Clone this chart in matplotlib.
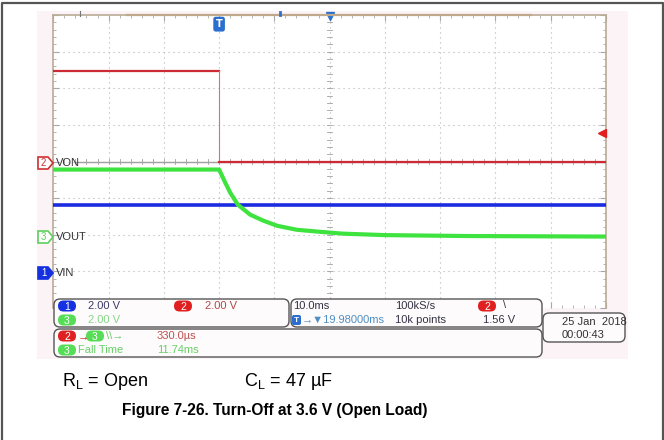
import matplotlib
matplotlib.use('Agg')
import numpy as np
import matplotlib.pyplot as plt
from matplotlib.patches import FancyBboxPatch, Rectangle, Polygon

# scope settings
volts_per_div = 2.0
ms_per_div = 10.0
ch_offset = {'VIN': 1.0, 'VON': 4.0, 'VOUT': 2.0}  # ground level in divisions

# traces (time in ms, voltage in V)
von_t = [-30, 0, 0, 70]
von_v = [4.95, 4.95, 0.0, 0.0]
vin_t = [-30, 70]
vin_v = [3.65, 3.65]
vout_t = [-30, 0.0, 1.1, 2.0, 3.4, 5.6, 8.0, 10.5, 14.1, 18.3, 22.4, 30, 45, 70]
vout_v = [3.56, 3.56, 2.85, 2.30, 1.64, 1.10, 0.77, 0.49, 0.27, 0.16, 0.06, -0.02, -0.07, -0.1]
trig_level = 1.56

col_red = '#cc2b36'
col_blue = '#1b2be0'
col_green = '#3fe33f'
scope_font = ['Liberation Sans', 'DejaVu Sans']

W, H = 664, 440
fig = plt.figure(figsize=(W / 100, H / 100), dpi=100)
fig.patch.set_facecolor('white')

# background layer in pixel coords
bg = fig.add_axes([0, 0, 1, 1], zorder=0)
bg.set_xlim(0, W)
bg.set_ylim(H, 0)
bg.axis('off')
bg.add_patch(Rectangle((37, 11), 591, 348, fc='#fcf3f7', ec='none'))

# scope screen
L, R, T, B = 53.3, 606, 15, 308
ax = fig.add_axes([L / W, 1 - B / H, (R - L) / W, (B - T) / H], zorder=1)
ax.set_xlim(-30, 70)
ax.set_ylim(0, 8)
ax.set_facecolor('white')
for s in ax.spines.values():
    s.set_color('#b9ab96')
    s.set_linewidth(1.2)
ax.spines['bottom'].set_visible(False)
ax.set_xticks(np.arange(-30, 71, 10))
ax.set_yticks(np.arange(0, 9, 1))
ax.set_xticks(np.arange(-30, 71, 2), minor=True)
ax.set_yticks(np.arange(0, 8.1, 0.2), minor=True)
ax.tick_params(which='both', direction='in', top=True, right=True, labelleft=False,
               labelbottom=False, color='#a8a8a8')
ax.tick_params(which='major', length=4, width=0.8)
ax.tick_params(which='minor', length=2.5, width=0.6)
for xv in np.arange(-20, 61, 10):
    ax.axvline(xv, color='#b4b4b4', lw=0.8, ls=(0, (1, 3.5)), zorder=1)
for yv in np.arange(1, 8, 1):
    ax.axhline(yv, color='#b4b4b4', lw=0.8, ls=(0, (1, 3.5)), zorder=1)
ax.axhline(4, xmin=0.04, color='#a0a0a0', lw=1.0, zorder=1)
for xv in np.arange(-30, 71, 2):
    ax.plot([xv, xv], [3.94, 4.06], color='#a0a0a0', lw=0.6, zorder=1)
for yv in np.arange(0, 8.1, 0.2):
    ax.plot([19.6, 20.4], [yv, yv], color='#a0a0a0', lw=0.6, zorder=1)

def to_div(v, name):
    return [ch_offset[name] + x / volts_per_div for x in v]

ax.plot(vin_t, to_div(vin_v, 'VIN'), color=col_blue, lw=2.6, zorder=3)
ax.plot(von_t[:2], to_div(von_v[:2], 'VON'), color=col_red, lw=1.6, zorder=4)
ax.plot(von_t[1:3], to_div(von_v[1:3], 'VON'), color='#e07070', lw=0.8, zorder=4)
ax.plot(von_t[2:], to_div(von_v[2:], 'VON'), color=col_red, lw=1.6, zorder=4)
ax.plot(vout_t, to_div(vout_v, 'VOUT'), color=col_green, lw=3.0, zorder=5)

# trigger markers
ax.plot([69.2], [ch_offset['VON'] + trig_level / volts_per_div], marker='<', ms=6,
        color='#e02020', clip_on=False, zorder=6)
ax.plot([20], [7.97], marker='v', ms=6, color='#2a6fd0', clip_on=False, zorder=6)
ax.text(0, 7.75, 'T', ha='center', va='center', color='white', fontsize=7, fontweight='bold',
        bbox=dict(boxstyle='round,pad=0.25', fc='#2a6fd0', ec='none'), zorder=6)

# overlay layer
fg = fig.add_axes([0, 0, 1, 1], zorder=3)
fg.set_xlim(0, W)
fg.set_ylim(H, 0)
fg.axis('off')
fg.patch.set_visible(False)

# outer frame
fg.plot([1.5, 1.5, 663, 663], [H, 3.5, 3.5, H], color='#555555', lw=1.6)

# top bar
fg.plot([127, 531], [15, 15], color='#c0a88a', lw=1.6)
fg.plot([80, 80], [11, 16], color='#777777', lw=0.8)
fg.plot([280, 280], [12, 15], color='#2a6fd0', lw=2)


def channel_tag(y, num, col, filled, label):
    pts = [(38, y - 6), (48, y - 6), (53, y), (48, y + 6), (38, y + 6)]
    fg.add_patch(Polygon(pts, closed=True, fc=col if filled else 'white',
                         ec=col, lw=1.2, zorder=5))
    fg.text(43.5, y + 0.5, num, ha='center', va='center', fontsize=7,
            color='white' if filled else col, family=scope_font, zorder=6)
    fg.text(56, y, label, ha='left', va='center', fontsize=8, color='#333333',
            family=scope_font, zorder=6)


channel_tag(163, '2', '#d03030', False, 'VON')
channel_tag(237, '3', '#5ccf5c', False, 'VOUT')
channel_tag(273, '1', '#1530e0', True, 'VIN')


def panel(x0, y0, x1, y1):
    fg.add_patch(FancyBboxPatch((x0, y0), x1 - x0, y1 - y0,
                                boxstyle='round,pad=0,rounding_size=6',
                                fc='#fefbfc', ec='#555555', lw=1.0, zorder=4))


def badge(xc, y, num, col):
    fg.add_patch(FancyBboxPatch((xc - 9, y - 5.5), 18, 11,
                                boxstyle='round,pad=0,rounding_size=5.5',
                                fc=col, ec='none', zorder=5))
    fg.text(xc, y + 0.5, num, ha='center', va='center', fontsize=7.5,
            color='white', family=scope_font, zorder=6)


def txt(x, y, s, col='#333344'):
    fg.text(x, y, s, ha='left', va='center', fontsize=8, color=col,
            family=scope_font, zorder=6)


panel(54, 299, 289, 327)
panel(291, 299, 542, 327)
panel(54, 329, 542, 357)
panel(543, 313, 625, 342)

badge(67, 306, '1', '#1530e0')
txt(88, 306, '2.00 V', '#3a3a66')
badge(183, 306, '2', '#e02020')
txt(205, 306, '2.00 V', '#b04848')
badge(67, 320, '3', '#55dd55')
txt(88, 320, '2.00 V', '#86d686')

txt(293, 306, '10.0ms')
txt(395, 306, '100kS/s')
badge(487, 306, '2', '#e02020')
txt(503, 305, '\\', '#333344')
fg.add_patch(FancyBboxPatch((292, 315), 9, 10, boxstyle='round,pad=0,rounding_size=2',
                            fc='#2a6fd0', ec='none', zorder=5))
fg.text(296.5, 320.5, 'T', ha='center', va='center', fontsize=6, color='white',
        fontweight='bold', family=scope_font, zorder=6)
txt(302, 320, '\u2192\u25bc19.98000ms', '#4f8fc4')
txt(395, 320, '10k points')
txt(483, 320, '1.56 V')

badge(67, 336, '2', '#e02020')
txt(78, 336, '\u2192', '#e02020')
badge(95, 336, '3', '#55dd55')
txt(106, 336, '\\\\\u2192', '#66cc66')
txt(157, 336, '330.0\u00b5s', '#c05050')
badge(67, 350, '3', '#55dd55')
txt(78, 350, 'Fall Time', '#66d066')
txt(157, 350, '11.74ms', '#66d066')

txt(562, 322, '25 Jan  2018', '#333333')
txt(562, 335, '00:00:43', '#333333')

# conditions and caption
fg.text(62, 381, r'R$_\mathregular{L}$ = Open', ha='left', va='center', fontsize=13,
        family='Liberation Sans', color='black')
fg.text(244, 381, 'C$_\\mathregular{L}$ = 47 \u00b5F',
        ha='left', va='center', fontsize=13, family='Liberation Sans', color='black')
fg.text(275, 411, 'Figure 7-26. Turn-Off at 3.6 V (Open Load)', ha='center', va='center',
        fontsize=11.2, fontweight='bold', family='Liberation Sans', color='black')

fig.savefig('out.png', dpi=100)
